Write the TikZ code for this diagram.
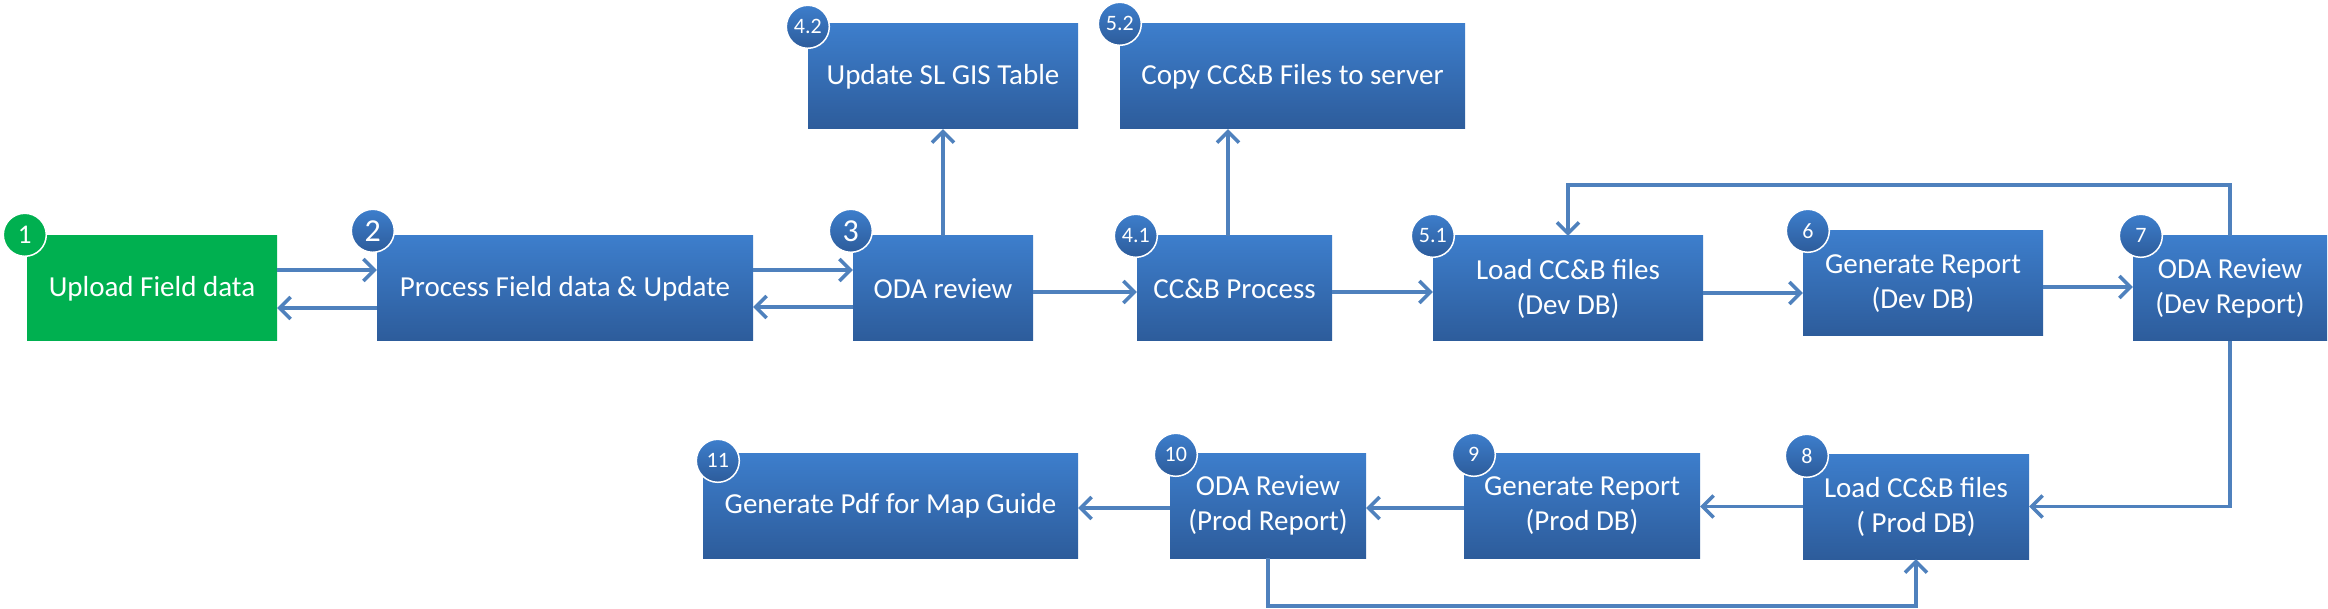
\documentclass[tikz,border=0pt]{standalone}
\usepackage{fontspec}
\setmainfont{Carlito}
\usetikzlibrary{arrows.meta}

\definecolor{boxtop}{HTML}{3D7ECC}
\definecolor{boxbottom}{HTML}{2D5C9B}
\definecolor{flowblue}{HTML}{4F81BD}
\definecolor{fieldgreen}{HTML}{00B050}

\tikzset{
	procbox/.style={rectangle, inner sep=0pt, minimum height=105pt, top color=boxtop, bottom color=boxbottom, text=white, align=center, font=\fontsize{29}{35}\selectfont},
	numbadge/.style={circle, inner sep=0pt, minimum size=43pt, top color=boxtop, bottom color=boxbottom, draw=white, line width=1.5pt, text=white, font=\fontsize{22}{22}\selectfont},
	bignum/.style={font=\fontsize{32}{32}\selectfont},
	flow/.style={draw=flowblue, line width=3.5pt, -{Straight Barb[length=11pt,width=22pt]}},
}

\begin{document}
\begin{tikzpicture}[x=1pt, y=-1pt]
	\useasboundingbox (0,0) rectangle (2328,609);
	% upper row
	\node (b1) [procbox, minimum width=250pt, fill=fieldgreen, top color=fieldgreen, bottom color=fieldgreen] at (152,288.5) {Upload Field data};
	\node (b2) [procbox, minimum width=376pt] at (565,288.5) {Process Field data \& Update};
	\node (b3) [procbox, minimum width=180pt] at (943,288.5) {ODA review};
	\node (b42) [procbox, minimum width=270pt] at (943,76.5) {Update SL GIS Table};
	\node (b52) [procbox, minimum width=345pt] at (1292.5,76.5) {Copy CC\&B Files to server};
	\node (b41) [procbox, minimum width=195pt] at (1234.5,288.5) {CC\&B Process};
	\node (b51) [procbox, minimum width=270pt] at (1568,288.5) {Load CC\&B files\\(Dev DB)};
	\node (b6) [procbox, minimum width=240pt] at (1923,283.5) {Generate Report\\(Dev DB)};
	\node (b7) [procbox, minimum width=194pt] at (2230,288.5) {ODA Review\\(Dev Report)};
	% lower row
	\node (b8) [procbox, minimum width=226pt] at (1916,506.5) {Load CC\&B files\\( Prod DB)};
	\node (b9) [procbox, minimum width=236pt] at (1582,505.5) {Generate Report\\(Prod DB)};
	\node (b10) [procbox, minimum width=196pt] at (1268,505.5) {ODA Review\\(Prod Report)};
	\node (b11) [procbox, minimum width=375pt] at (890.5,505.5) {Generate Pdf for Map Guide};

	% connectors
	\draw [flow] (b1.east |- 0,270) -- (b2.west |- 0,270);
	\draw [flow] (b2.west |- 0,308) -- (b1.east |- 0,308);
	\draw [flow] (b2.east |- 0,270) -- (b3.west |- 0,270);
	\draw [flow] (b3.west |- 0,307) -- (b2.east |- 0,307);
	\draw [flow] (b3.north) -- (b42.south);
	\draw [flow] (b3.east |- 0,292) -- (b41.west |- 0,292);
	\draw [flow] (b41.north -| 1228,0) -- (b52.south -| 1228,0);
	\draw [flow] (b41.east |- 0,292) -- (b51.west |- 0,292);
	\draw [flow] (b51.east |- 0,293) -- (b6.west |- 0,293);
	\draw [flow] (b6.east |- 0,287) -- (b7.west |- 0,287);
	\draw [flow] (b7.north) -- ++(0,-51) -| (b51.north);
	\draw [flow] (b7.south) |- (b8.east);
	\draw [flow] (b8.west) -- (b8.west -| b9.east);
	\draw [flow] (b9.west |- 0,508) -- (b10.east |- 0,508);
	\draw [flow] (b10.west |- 0,508) -- (b11.east |- 0,508);
	\draw [flow] (b10.south) -- ++(0,48) -| (b8.south);

	% step numbers
	\node (n1) [numbadge, bignum, top color=fieldgreen, bottom color=fieldgreen, font=\fontsize{27}{27}\selectfont] at ([xshift=-2pt, yshift=1pt]b1.north west) {1};
	\node (n2) [numbadge, bignum] at ([xshift=-4pt, yshift=5pt]b2.north west) {2};
	\node (n3) [numbadge, bignum] at ([xshift=-2pt, yshift=5pt]b3.north west) {3};
	\node (n42) [numbadge] at ([yshift=-3pt]b42.north west) {4.2};
	\node (n52) [numbadge] at (b52.north west) {5.2};
	\node (n41) [numbadge] at ([xshift=-1pt]b41.north west) {4.1};
	\node (n51) [numbadge] at (b51.north west) {5.1};
	\node (n6) [numbadge] at ([xshift=5pt]b6.north west) {6};
	\node (n7) [numbadge] at ([xshift=8pt]b7.north west) {7};
	\node (n8) [numbadge] at ([xshift=4pt, yshift=-2pt]b8.north west) {8};
	\node (n9) [numbadge] at ([xshift=10pt, yshift=-2pt]b9.north west) {9};
	\node (n10) [numbadge] at ([xshift=6pt, yshift=-2pt]b10.north west) {10};
	\node (n11) [numbadge] at ([xshift=15pt, yshift=-8pt]b11.north west) {11};
\end{tikzpicture}
\end{document}
